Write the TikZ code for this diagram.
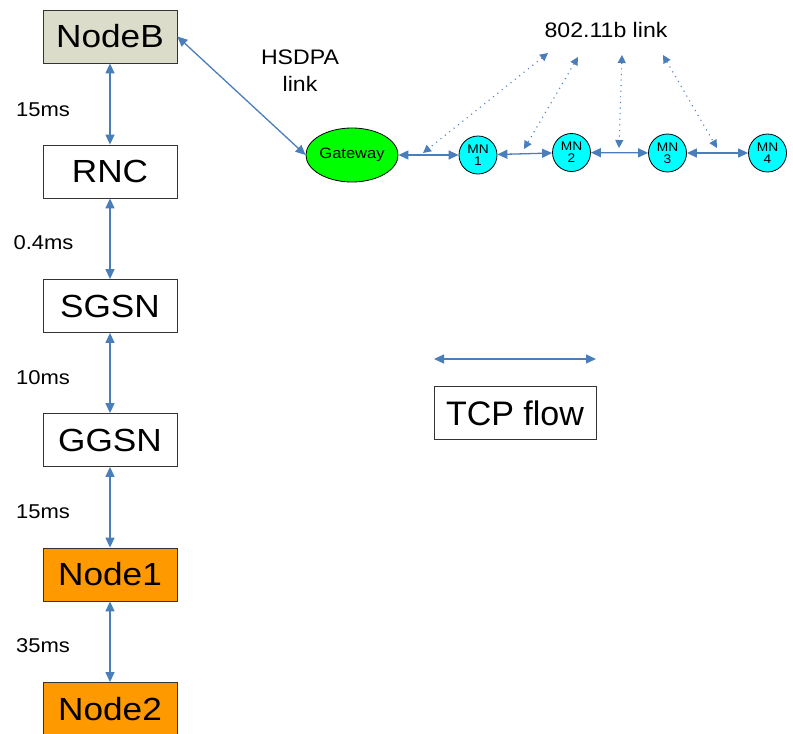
\documentclass[tikz,border=0pt]{standalone}
\usepackage{fontspec}
\setmainfont[FakeStretch=1.1]{Liberation Sans}
\newfontfamily\flowfont{Liberation Sans}
\usetikzlibrary{arrows.meta,shapes.geometric}
\definecolor{linkblue}{HTML}{4A7EBB}
\definecolor{nodebfill}{HTML}{DCDCCA}
\definecolor{coreorange}{HTML}{FF9900}
\definecolor{gwgreen}{HTML}{00FF00}
\definecolor{mncyan}{HTML}{00FFFF}
\tikzset{
  netbox/.style={draw=black!80, line width=0.8pt, minimum width=134pt, minimum height=53pt,
    inner sep=0pt, font=\fontsize{32}{38}\selectfont},
  delay/.style={font=\fontsize{20}{24}\selectfont, inner sep=0pt},
  mobile/.style={circle, draw=black, line width=0.8pt, fill=mncyan, minimum size=38pt, inner sep=0pt,
    align=center, font=\fontsize{12.5}{12}\selectfont},
  link/.style={draw=linkblue, line width=1.3pt, {Triangle[length=10pt,width=9pt]}-{Triangle[length=10pt,width=9pt]}},
  wlan/.style={draw=linkblue, line width=1.1pt, dash pattern=on 1.1pt off 4.5pt,
    {Triangle[length=8pt,width=8pt]}-{Triangle[length=8pt,width=8pt]}},
}
\begin{document}
\begin{tikzpicture}[x=1pt, y=-1pt]
\useasboundingbox (0,0) rectangle (793,734);

% core network chain
\node[netbox, fill=nodebfill] (nodeb) at (110,36.5) {NodeB};
\node[netbox, fill=white] (rnc) at (110,171.5) {RNC};
\node[netbox, fill=white] (sgsn) at (110,306) {SGSN};
\node[netbox, fill=white] (ggsn) at (110,440) {GGSN};
\node[netbox, fill=coreorange] (node1) at (110,574.5) {Node1};
\node[netbox, fill=coreorange] (node2) at (110,709) {Node2};

\draw[link] (nodeb) -- (rnc);
\draw[link] (rnc) -- (sgsn);
\draw[link] (sgsn) -- (ggsn);
\draw[link] (ggsn) -- (node1);
\draw[link] (node1) -- (node2);

% link delays
\node[delay] (d1) at (43,110) {15ms};
\node[delay] (d2) at (43.5,242.5) {0.4ms};
\node[delay] (d3) at (43,377.5) {10ms};
\node[delay] (d4) at (43,512) {15ms};
\node[delay] (d5) at (43,645.5) {35ms};

% HSDPA access and the ad hoc chain
\node[ellipse, draw=black, line width=0.8pt, fill=gwgreen, minimum width=80pt, minimum height=54pt,
  inner sep=0pt, font=\fontsize{15}{16}\selectfont] (gw) at (352,155) {Gateway};
\node[align=center, font=\fontsize{21}{27}\selectfont] (hsdpa) at (300,71) {HSDPA\\link};
\draw[link] (nodeb.east) -- (gw.west);

\node[mobile] (mn1) at (478,155) {MN\\1};
\node[mobile] (mn2) at (571.5,152.5) {MN\\2};
\node[mobile] (mn3) at (667.5,153) {MN\\3};
\node[mobile] (mn4) at (767.5,153) {MN\\4};

\draw[link] (gw) -- (mn1);
\draw[link] (mn1) -- (mn2);
\draw[link] (mn2) -- (mn3);
\draw[link] (mn3) -- (mn4);

% 802.11b hops
\node[font=\fontsize{21}{24}\selectfont] (wifi) at (606,29.5) {802.11b link};
\coordinate (w1a) at (548,53);
\coordinate (w1b) at (423,153);
\coordinate (w2a) at (578,57);
\coordinate (w2b) at (524,149);
\coordinate (w3a) at (622,55);
\coordinate (w3b) at (619,148);
\coordinate (w4a) at (663,55);
\coordinate (w4b) at (717,148);
\draw[wlan] (w1a) -- (w1b);
\draw[wlan] (w2a) -- (w2b);
\draw[wlan] (w3a) -- (w3b);
\draw[wlan] (w4a) -- (w4b);

% legend
\coordinate (tcpl) at (434,359);
\coordinate (tcpr) at (596,359);
\draw[link] (tcpl) -- (tcpr);
\node[draw=black!80, line width=0.8pt, minimum width=162pt, minimum height=53pt, inner sep=0pt,
  font=\flowfont\fontsize{34}{40}\selectfont] (tcp) at (515,413) {TCP flow};
\end{tikzpicture}
\end{document}
